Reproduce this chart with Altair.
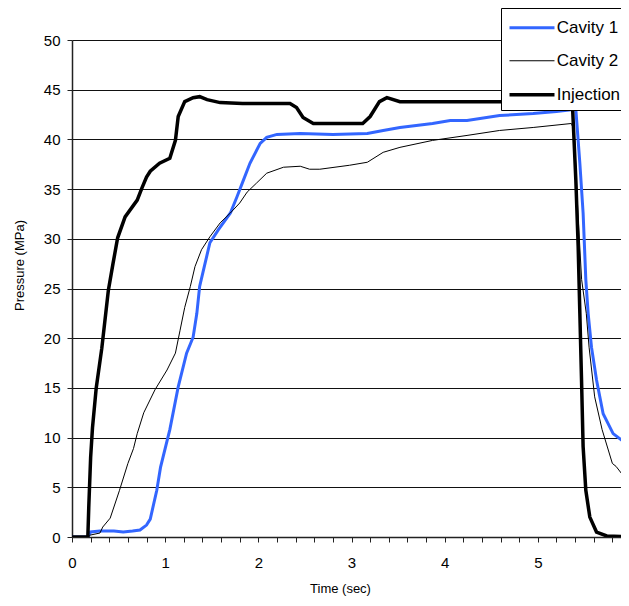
import altair as alt
import pandas as pd

# ---- data ----
series_names = ["Cavity 1", "Cavity 2", "Injection"]
series_colors = ["#3366FF", "#000000", "#000000"]
series_widths = [3, 1, 3.5]

inj_t = [0, 0.17, 0.18, 0.20, 0.22, 0.26, 0.32, 0.39, 0.44, 0.49, 0.57, 0.70, 0.75,
         0.80, 0.84, 0.94, 1.05, 1.11, 1.14, 1.21, 1.30, 1.37, 1.45, 1.59, 1.83,
         2.09, 2.34, 2.41, 2.48, 2.59, 2.80, 3.12, 3.20, 3.30, 3.38, 3.52, 4.00,
         4.59, 5.00, 5.37, 5.408, 5.433, 5.451, 5.469, 5.486, 5.515, 5.558, 5.63,
         5.74, 6.0]
inj_p = [0, 0, 3, 8, 11, 15, 19, 24.8, 27.5, 30.1, 32.2, 33.9, 35.1,
         36.2, 36.8, 37.6, 38.1, 39.9, 42.3, 43.8, 44.2, 44.3, 44.0, 43.7, 43.6,
         43.6, 43.6, 43.2, 42.2, 41.6, 41.6, 41.6, 42.3, 43.8, 44.2, 43.8, 43.8,
         43.8, 43.8, 43.8, 35.9, 29.2, 22.5, 15.8, 9.1, 4.7, 2.0, 0.5,
         0.1, 0]

c1_t = [0, 0.17, 0.20, 0.30, 0.45, 0.55, 0.65, 0.73, 0.80, 0.84, 0.91, 0.95, 1.05,
        1.14, 1.23, 1.30, 1.34, 1.37, 1.43, 1.48, 1.57, 1.70, 1.77, 1.84, 1.91,
        2.02, 2.09, 2.20, 2.45, 2.80, 3.17, 3.34, 3.52, 3.87, 4.06, 4.24, 4.59,
        4.95, 5.20, 5.38, 5.408, 5.451, 5.486, 5.515, 5.54, 5.576, 5.63, 5.701,
        5.808, 5.976, 6.0]
c1_p = [0, 0, 0.5, 0.6, 0.6, 0.5, 0.6, 0.7, 1.2, 1.8, 4.7, 7.0, 10.8,
        15.1, 18.5, 20.1, 22.5, 25.2, 27.6, 29.6, 30.9, 32.6, 34.2, 35.9, 37.6,
        39.6, 40.2, 40.5, 40.6, 40.5, 40.6, 40.9, 41.2, 41.6, 41.9, 41.9, 42.4,
        42.6, 42.8, 43.0, 43.0, 37.6, 32.6, 25.9, 22.5, 19.1, 15.8, 12.4,
        10.4, 9.2, 9.1]

c2_t = [0, 0.17, 0.20, 0.30, 0.33, 0.41, 0.51, 0.60, 0.66, 0.70, 0.77, 0.89, 1.02,
        1.11, 1.16, 1.21, 1.27, 1.32, 1.39, 1.48, 1.59, 1.70, 1.80, 1.88, 1.98,
        2.09, 2.27, 2.45, 2.55, 2.66, 2.98, 3.17, 3.34, 3.52, 3.87, 4.24, 4.59,
        4.95, 5.36, 5.39, 5.43, 5.47, 5.52, 5.55, 5.61, 5.69, 5.80, 5.84, 5.98, 6.0]
c2_p = [0, 0, 0.2, 0.4, 1.0, 1.9, 4.7, 7.4, 8.9, 10.4, 12.5, 14.8, 16.8,
        18.5, 20.8, 23.1, 25.2, 27.2, 28.9, 30.2, 31.6, 32.6, 33.6, 34.7, 35.6,
        36.6, 37.2, 37.3, 37.0, 37.0, 37.4, 37.7, 38.7, 39.2, 39.9, 40.4, 40.9,
        41.2, 41.6, 40.9, 32.6, 25.9, 22.5, 19.1, 14.1, 10.8, 7.4, 7.1, 5.4, 5.3]

x_ticks = [round(i * 0.2, 1) for i in range(31)]
y_ticks = list(range(0, 55, 5))

rows = []
for name, ts, ps in zip(series_names, [c1_t, c2_t, inj_t], [c1_p, c2_p, inj_p]):
    for i, (t, p) in enumerate(zip(ts, ps)):
        rows.append({"series": name, "t": t, "p": p, "i": i})
df = pd.DataFrame(rows)

legend = alt.Legend(
    title=None,
    orient="none",
    legendX=429,
    legendY=-32,
    direction="vertical",
    strokeColor="black",
    fillColor="white",
    padding=6.75,
    symbolType="M-1,0H3",
    symbolSize=506,
    labelFontSize=17,
    labelColor="black",
    labelOffset=23,
    rowPadding=13,
    labelLimit=300,
)

chart = alt.Chart(df).mark_line(clip=True).encode(
    x=alt.X(
        "t:Q",
        scale=alt.Scale(domain=[0, 6], nice=False),
        axis=alt.Axis(
            values=x_ticks,
            labelExpr="abs(datum.value - round(datum.value)) < 0.001 ? format(datum.value, 'd') : ''",
            title="Time (sec)",
            grid=False,
            tickSize=5,
            labelPadding=13,
            labelFontSize=15,
            labelFlush=False,
            titleX=268,
            titleY=51,
            titleAlign="center",
            titleBaseline="middle",
        ),
    ),
    y=alt.Y(
        "p:Q",
        scale=alt.Scale(domain=[0, 50], nice=False),
        axis=alt.Axis(
            values=y_ticks,
            title="Pressure (MPa)",
            grid=True,
            tickSize=5,
            labelPadding=7,
            labelFontSize=15,
            titleX=-52.5,
            titleY=225,
            titleAlign="center",
            titleBaseline="middle",
        ),
    ),
    color=alt.Color("series:N", scale=alt.Scale(domain=series_names, range=series_colors), legend=legend),
    strokeWidth=alt.StrokeWidth(
        "series:N",
        scale=alt.Scale(type="ordinal", domain=series_names, range=series_widths),
        legend=legend,
    ),
    order="i:Q",
).properties(
    width=559,
    height=497,
    autosize=alt.AutoSizeParams(type="none"),
    padding={"left": 64, "top": 32, "right": -10, "bottom": 61},
).configure(
    font="Liberation Sans",
).configure_view(
    stroke=None,
).configure_axis(
    domainColor="#222222",
    domainWidth=1.5,
    tickColor="#222222",
    tickWidth=1,
    gridColor="#111111",
    gridWidth=1,
    labelColor="black",
    titleColor="black",
    titleFontSize=13,
    titleFontWeight="normal",
)

chart.save("out.html", embed_options={"renderer": "svg", "actions": False})
